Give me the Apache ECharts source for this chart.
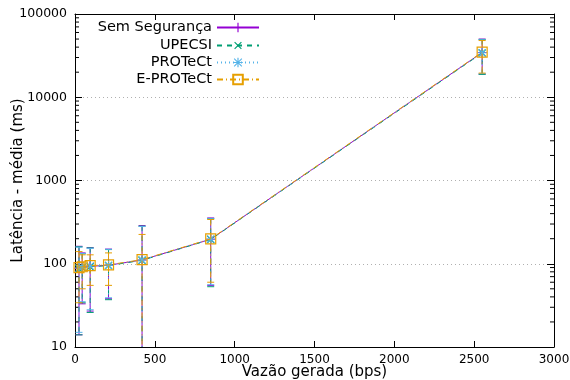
<!DOCTYPE html>
<html>
<head>
<meta charset="utf-8">
<script src="https://cdn.jsdelivr.net/npm/echarts@6/dist/echarts.min.js"></script>
<style>
  html, body { margin: 0; padding: 0; background: #fff; }
  #chart { width: 570px; height: 380px; }
</style>
</head>
<body>
<div id="chart"></div>
<script>
// Vazão gerada (bps) for each measurement point
const vazao = [25, 45, 95, 210, 420, 850, 2550];

// Latência média (ms) and error bar limits, one set per scheme
const semSegMedia = [88, 91, 93, 96, 111, 197, 34500];
const semSegMin = [14, 33, 27, 38, 1, 55, 19000];
const semSegMax = [162, 135, 156, 150, 287, 355, 50000];

const upecsiMedia = [87, 90, 92, 95, 110, 196, 34000];
const upecsiMin = [14, 34, 26, 37, 1, 53, 18800];
const upecsiMax = [160, 132, 155, 148, 283, 350, 49500];

const protectMedia = [89, 91, 94, 96, 111, 198, 34200];
const protectMin = [15, 35, 28, 39, 1, 56, 19200];
const protectMax = [158, 133, 153, 149, 280, 348, 49000];

const eprotectMedia = [90, 92, 95, 97, 112, 199, 34800];
const eprotectMin = [34, 50, 55, 55, 1, 60, 19500];
const eprotectMax = [140, 128, 128, 135, 225, 340, 48000];

const seriesNames = ['Sem Segurança', 'UPECSI', 'PROTeCt', 'E-PROTeCt'];
const xTicks = [0, 500, 1000, 1500, 2000, 2500, 3000];
const yMinorTicks = [20, 30, 40, 50, 60, 70, 80, 90,
  200, 300, 400, 500, 600, 700, 800, 900,
  2000, 3000, 4000, 5000, 6000, 7000, 8000, 9000,
  20000, 30000, 40000, 50000, 60000, 70000, 80000, 90000];

const FONT = 'DejaVu Sans';

// gnuplot-like point types
const PLUS = 'path://M0,4.4H10V5.6H0Z M4.4,0H5.6V10H4.4Z';
const STAR = 'path://M0,4.4H10V5.6H0Z M4.4,0H5.6V10H4.4Z ' +
  'M0.6,1.4L1.4,0.6L9.4,8.6L8.6,9.4Z M8.6,0.6L9.4,1.4L1.4,9.4L0.6,8.6Z';

const styles = [
  { color: '#9400d3', dash: 'solid', lineDash: null, symbol: PLUS, rotate: 0, size: 9, hollow: false },
  { color: '#009e73', dash: [5, 5], lineDash: [5, 5], symbol: PLUS, rotate: 45, size: 10, hollow: false },
  { color: '#56b4e9', dash: [1, 3], lineDash: [1, 3], symbol: STAR, rotate: 0, size: 9, hollow: false },
  { color: '#e69f00', dash: [6, 3, 1, 3], lineDash: [6, 3, 1, 3], symbol: 'rect', rotate: 0, size: 10, hollow: true },
];

const medias = [semSegMedia, upecsiMedia, protectMedia, eprotectMedia];
const mins = [semSegMin, upecsiMin, protectMin, eprotectMin];
const maxs = [semSegMax, upecsiMax, protectMax, eprotectMax];

function errorBarRenderer(st) {
  return function (params, api) {
    const x = api.value(0);
    const cs = params.coordSys;
    const top = api.coord([x, api.value(2)]);
    const bottom = api.coord([x, api.value(1)]);
    const yTop = Math.max(top[1], cs.y);
    const yBottom = Math.min(bottom[1], cs.y + cs.height);
    const half = 3.5;
    const lineStyle = { stroke: st.color, lineWidth: 1, lineDash: st.lineDash };
    const children = [
      { type: 'line', shape: { x1: top[0], y1: yTop, x2: top[0], y2: yBottom }, style: lineStyle },
    ];
    if (top[1] >= cs.y) {
      children.push({ type: 'line', shape: { x1: top[0] - half, y1: top[1], x2: top[0] + half, y2: top[1] },
        style: { stroke: st.color, lineWidth: 1 } });
    }
    if (bottom[1] <= cs.y + cs.height) {
      children.push({ type: 'line', shape: { x1: bottom[0] - half, y1: bottom[1], x2: bottom[0] + half, y2: bottom[1] },
        style: { stroke: st.color, lineWidth: 1 } });
    }
    return { type: 'group', children: children };
  };
}

const series = [];

// Log-axis minor ticks on the left and right frame
series.push({
  type: 'custom',
  silent: true,
  data: yMinorTicks.map((v) => [0, v]),
  renderItem: function (params, api) {
    const cs = params.coordSys;
    const y = api.coord([0, api.value(1)])[1];
    return {
      type: 'group',
      children: [
        { type: 'line', shape: { x1: cs.x, y1: y, x2: cs.x + 4, y2: y }, style: { stroke: '#000', lineWidth: 1 } },
        { type: 'line', shape: { x1: cs.x + cs.width - 4, y1: y, x2: cs.x + cs.width, y2: y }, style: { stroke: '#000', lineWidth: 1 } },
      ],
    };
  },
  z: 1,
});

seriesNames.forEach((name, i) => {
  const st = styles[i];
  series.push({
    name: name,
    type: 'line',
    data: vazao.map((x, j) => [x, medias[i][j]]),
    symbol: st.symbol,
    symbolSize: st.size,
    symbolRotate: st.rotate,
    showAllSymbol: true,
    lineStyle: { color: st.color, width: 1, type: st.dash },
    itemStyle: st.hollow
      ? { color: 'rgba(0,0,0,0)', borderColor: st.color, borderWidth: 1.2 }
      : { color: st.color, borderWidth: 0 },
    emphasis: { disabled: true },
    z: 3 + i * 2,
  });
  series.push({
    name: name,
    type: 'custom',
    data: vazao.map((x, j) => [x, mins[i][j], maxs[i][j]]),
    encode: { x: 0, y: [1, 2] },
    renderItem: errorBarRenderer(st),
    silent: true,
    z: 2 + i * 2,
  });
});

const legendTops = [20, 38, 55, 72];
const legends = seriesNames.map((name, i) => ({
  data: [name],
  right: 310,
  top: legendTops[i],
  padding: 0,
  align: 'right',
  itemWidth: 42,
  itemHeight: 12,
  selectedMode: false,
  textStyle: { fontFamily: FONT, fontSize: 14.5, color: '#000' },
}));

const chart = echarts.init(document.getElementById('chart'), null, { renderer: 'canvas' });

chart.setOption({
  animation: false,
  backgroundColor: '#fff',
  textStyle: { fontFamily: FONT },
  legend: legends,
  grid: { left: 75, right: 16, top: 14, bottom: 33, containLabel: false, outerBoundsMode: 'none' },
  xAxis: [
    {
      type: 'value',
      min: 0,
      max: 3000,
      interval: 500,
      name: 'Vazão gerada (bps)',
      nameLocation: 'middle',
      nameGap: 18,
      nameMoveOverlap: false,
      nameTextStyle: { fontFamily: FONT, fontSize: 15, color: '#000' },
      axisLine: { onZero: false, lineStyle: { color: '#000', width: 1 } },
      axisTick: { inside: true, length: 6, lineStyle: { color: '#000' } },
      axisLabel: {
        fontFamily: FONT, fontSize: 12, color: '#000', margin: 7,
        formatter: (v) => (xTicks.includes(v) ? String(v) : ''),
      },
      splitLine: { show: false },
    },
    {
      type: 'value',
      position: 'top',
      min: 0,
      max: 3000,
      interval: 500,
      axisLine: { onZero: false, lineStyle: { color: '#000', width: 1 } },
      axisTick: { inside: true, length: 6, lineStyle: { color: '#000' } },
      axisLabel: { show: false },
      splitLine: { show: false },
    },
  ],
  yAxis: [
    {
      type: 'log',
      logBase: 10,
      min: 10,
      max: 100000,
      name: 'Latência - média (ms)',
      nameLocation: 'middle',
      nameGap: 49,
      nameMoveOverlap: false,
      nameTextStyle: { fontFamily: FONT, fontSize: 15, color: '#000' },
      axisLine: { onZero: false, lineStyle: { color: '#000', width: 1 } },
      axisTick: { inside: true, length: 7, lineStyle: { color: '#000' } },
      axisLabel: { fontFamily: FONT, fontSize: 12.5, color: '#000', margin: 8, formatter: (v) => String(Math.round(v)) },
      splitLine: { show: true, lineStyle: { color: '#b0b0b0', width: 1, type: [1, 3] } },
    },
    {
      type: 'log',
      logBase: 10,
      min: 10,
      max: 100000,
      position: 'right',
      axisLine: { onZero: false, lineStyle: { color: '#000', width: 1 } },
      axisTick: { inside: true, length: 7, lineStyle: { color: '#000' } },
      axisLabel: { show: false },
      splitLine: { show: false },
    },
  ],
  series: series,
});
</script>
</body>
</html>
